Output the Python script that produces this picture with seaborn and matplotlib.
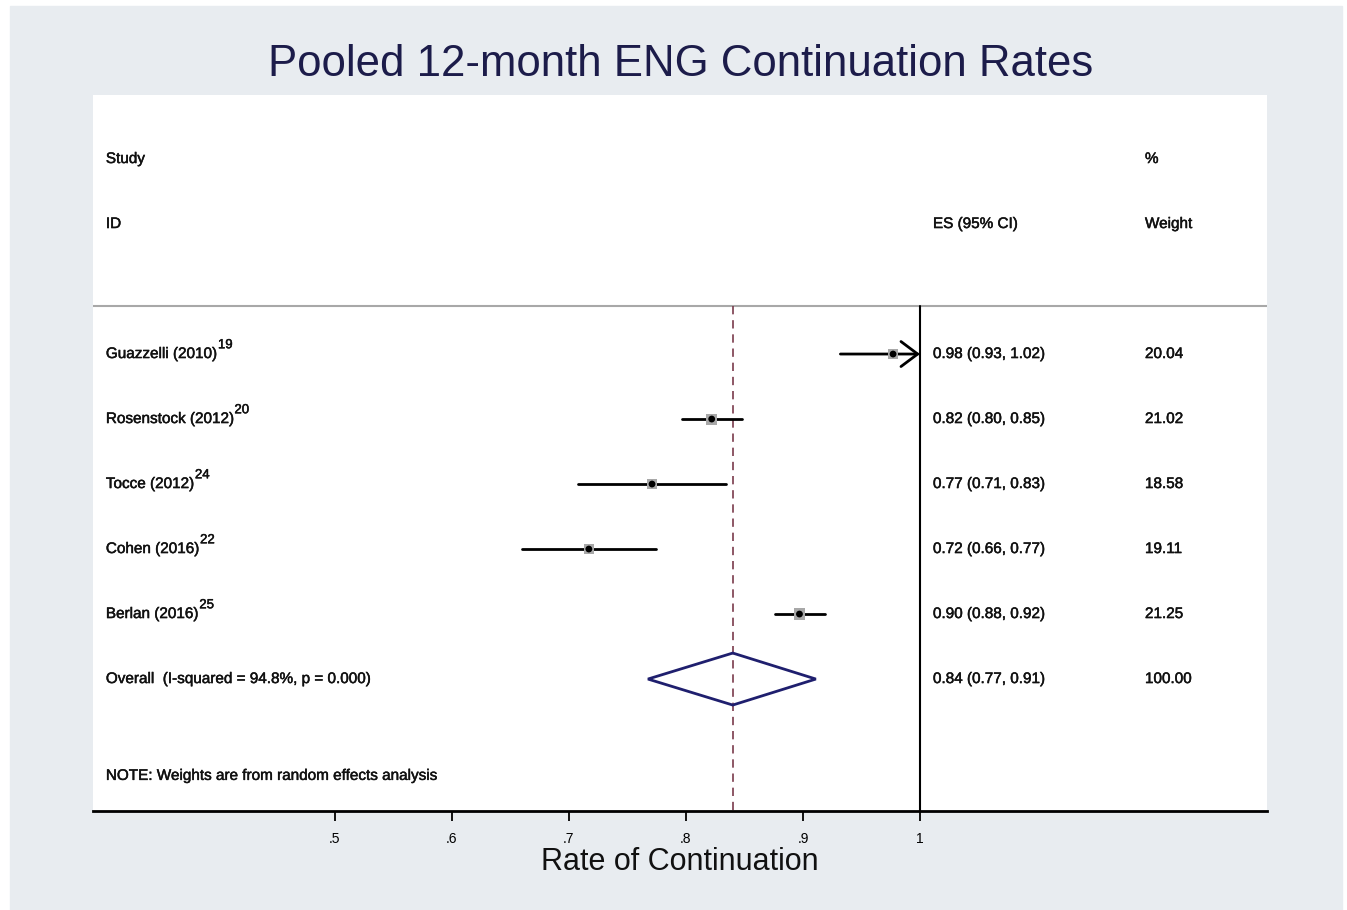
import numpy as np
import pandas as pd
import matplotlib
matplotlib.use("Agg")
import matplotlib.pyplot as plt
import matplotlib.patheffects as pe
import seaborn as sns
from matplotlib.patches import Polygon, Rectangle

# Study data
studies = ['Guazzelli (2010)', 'Rosenstock (2012)', 'Tocce (2012)', 'Cohen (2016)', 'Berlan (2016)']
refs = ['19', '20', '24', '22', '25']
es = [0.977, 0.822, 0.771, 0.717, 0.897]
ci_low = [0.932, 0.797, 0.708, 0.660, 0.876]
ci_high = [1.02, 0.848, 0.834, 0.774, 0.919]
weights = [20.04, 21.02, 18.58, 19.11, 21.25]

overall_es = 0.840
overall_low = 0.7675
overall_high = 0.911
overall_label = 'Overall  (I-squared = 94.8%, p = 0.000)'
note = 'NOTE: Weights are from random effects analysis'

xticks = [0.5, 0.6, 0.7, 0.8, 0.9, 1.0]
xtick_labels = ['.5', '.6', '.7', '.8', '.9', '1']

sns.set_style("white")
plt.rcParams['font.family'] = ['Liberation Sans', 'DejaVu Sans']

df = pd.DataFrame({'study': studies, 'es': es, 'lo': ci_low, 'hi': ci_high,
                   'weight': weights, 'row': np.arange(len(studies))})

fig = plt.figure(figsize=(13.47, 9.10), dpi=100)
fig.patch.set_facecolor('white')
# stata-like grey outer region
bg = Rectangle((10 / 1347, 0), 1332 / 1347, 904 / 910,
               transform=fig.transFigure, color='#e8ecf0', zorder=-10)
fig.add_artist(bg)

ax = fig.add_axes([93 / 1347, 99 / 910, 1174 / 1347, 716 / 910])
ax.set_zorder(1)
ax.set_facecolor('white')
ax.set_xlim(0.2932, 1.2966)
ax.set_ylim(7.03, -3.985)

# slightly heavier text, like the stata export
heavy = [pe.withStroke(linewidth=0.35, foreground='#111111')]
text_kw = dict(fontsize=11, color='#111111', va='center', path_effects=heavy)
col_study = 0.3042
col_es = 1.0111
col_w = 1.1923

# headers
ax.text(col_study, -3, 'Study', **text_kw)
ax.text(col_study, -2, 'ID', **text_kw)
ax.text(col_es, -2, 'ES (95% CI)', **text_kw)
ax.text(col_w, -3, '%', **text_kw)
ax.text(col_w, -2, 'Weight', **text_kw)
ax.axhline(-0.738, color='#a8a8a8', lw=1.5)

# reference line at 1 and overall dashed line
ax.plot([1, 1], [-0.738, 7.03], color='black', lw=1.5)
ax.plot([overall_es, overall_es], [-0.738, 7.03], color='#7a3b4c', lw=1.2,
        dashes=(5, 3.5))

# confidence intervals (truncated at 1 with an arrow)
for _, r in df.iterrows():
    hi = min(r['hi'], 1.0)
    if r['hi'] > 1.0:
        ax.annotate('', xy=(1.0, r['row']), xytext=(r['lo'], r['row']),
                    arrowprops=dict(arrowstyle='->,head_length=1.2,head_width=0.9',
                                    color='black', lw=2, shrinkA=0, shrinkB=0))
    else:
        ax.plot([r['lo'], hi], [r['row'], r['row']], color='black', lw=2)

sns.scatterplot(data=df, x='es', y='row', marker='s', s=df['weight'] * 3,
                color='#a8a8a8', edgecolor='none', ax=ax, legend=False, zorder=3)
sns.scatterplot(data=df, x='es', y='row', marker='o', s=24, color='black',
                edgecolor='none', ax=ax, legend=False, zorder=4)

# study labels and numbers
for _, r in df.iterrows():
    ref = refs[int(r['row'])]
    lab = ax.text(col_study, r['row'], r['study'], **text_kw)
    ax.annotate(ref, xy=(1, 0.5), xycoords=lab, xytext=(0.5, 2),
                textcoords='offset points', fontsize=9.5, color='#111111',
                ha='left', va='bottom', path_effects=heavy)
    ax.text(col_es, r['row'], f"{r['es']:.2f} ({r['lo']:.2f}, {r['hi']:.2f})", **text_kw)
    ax.text(col_w, r['row'], f"{r['weight']:.2f}", **text_kw)

# overall diamond
orow = len(studies)
diamond = Polygon([[overall_low, orow], [overall_es, orow - 0.4],
                   [overall_high, orow], [overall_es, orow + 0.4]],
                  closed=True, fill=False, edgecolor='#1f1f6e', lw=2, zorder=3)
ax.add_patch(diamond)
ax.text(col_study, orow, overall_label, **text_kw)
ax.text(col_es, orow, f"{overall_es:.2f} ({overall_low:.2f}, {overall_high:.2f})", **text_kw)
ax.text(col_w, orow, f"{sum(weights):.2f}", **text_kw)
ax.text(col_study, 6.49, note, **text_kw)

# axes styling
for side in ['top', 'left', 'right']:
    ax.spines[side].set_visible(False)
ax.spines['bottom'].set_linewidth(2)
ax.spines['bottom'].set_color('black')
ax.set_yticks([])
ax.set_ylabel('')
ax.set_xticks(xticks)
ax.set_xticklabels(xtick_labels, fontsize=10)
ax.tick_params(axis='x', direction='out', length=7, width=1.3, pad=8,
               colors='black', bottom=True)
ax.set_xlabel('Rate of Continuation', fontsize=22, labelpad=1, color='#111111')

fig.text(681 / 1347, 1 - 65 / 910, 'Pooled 12-month ENG Continuation Rates',
         fontsize=31.5, color='#1c1c4a', ha='center', va='center')

fig.savefig('out.png', dpi=100, facecolor=fig.get_facecolor())
